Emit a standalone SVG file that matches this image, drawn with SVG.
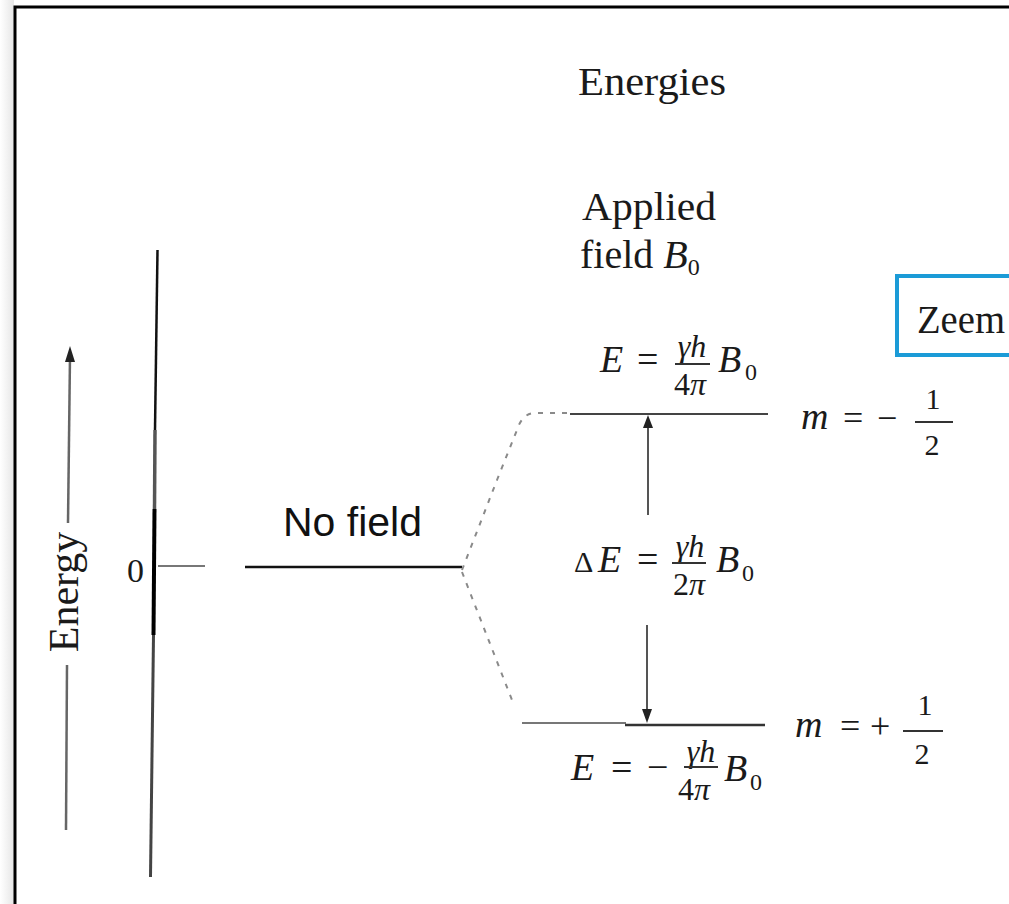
<svg xmlns="http://www.w3.org/2000/svg" width="1009" height="904" viewBox="0 0 1009 904">
<defs>
<linearGradient id="shadow" x1="0" y1="0" x2="1" y2="0">
<stop offset="0" stop-color="#ffffff"/>
<stop offset="1" stop-color="#e6e6e6"/>
</linearGradient>
</defs>
<style>
.t{font-family:"Liberation Serif","Times New Roman",serif;fill:#1a1a1a}
.i{font-style:italic}
.s{font-family:"Liberation Sans",Arial,sans-serif;fill:#111}
.dash{fill:none;stroke:#8a8a8a;stroke-width:2;stroke-dasharray:5 7}
.bar{stroke:#333;stroke-width:2}
</style>
<rect width="1009" height="904" fill="#fff"/>
<rect x="0" y="0" width="14" height="904" fill="url(#shadow)"/>
<path d="M15,904 V7 H1009" fill="none" stroke="#000" stroke-width="3"/>

<g id="header">
<text class="t" x="578" y="95" font-size="40" textLength="148" lengthAdjust="spacingAndGlyphs">Energies</text>
<text class="t" x="582" y="220" font-size="40" textLength="134" lengthAdjust="spacingAndGlyphs">Applied</text>
<text class="t" x="580" y="268" font-size="40">field <tspan class="i">B</tspan><tspan font-size="24" dy="7">0</tspan></text>
</g>

<g id="zeeman-label">
<rect x="897" y="276" width="130" height="79" fill="#fff" stroke="#1b9bd7" stroke-width="4"/>
<text class="t" x="917" y="333" font-size="40" fill="#000" textLength="88" lengthAdjust="spacingAndGlyphs">Zeem</text>
</g>

<g id="energy-axis">
<line x1="70" y1="356" x2="68" y2="523" stroke="#666" stroke-width="2.5"/>
<polygon points="70,346 65,362 75,362" fill="#222"/>
<text class="t" transform="translate(78,592) rotate(-90)" text-anchor="middle" font-size="42" fill="#333">Energy</text>
<line x1="67" y1="665" x2="66" y2="830" stroke="#666" stroke-width="2.5"/>
</g>

<g id="main-axis">
<line x1="157.5" y1="250" x2="155" y2="430" stroke="#111" stroke-width="2.5"/>
<line x1="155" y1="430" x2="154.5" y2="509" stroke="#555" stroke-width="3.5"/>
<line x1="154.5" y1="509" x2="153.5" y2="635" stroke="#000" stroke-width="4"/>
<line x1="153.5" y1="635" x2="150.5" y2="877" stroke="#444" stroke-width="3"/>
<text class="t" x="127" y="582" font-size="34">0</text>
<line x1="158" y1="566" x2="205" y2="566" stroke="#777" stroke-width="2"/>
</g>

<g id="no-field">
<text class="s" x="283" y="536" font-size="40" textLength="139" lengthAdjust="spacingAndGlyphs">No field</text>
<line x1="245" y1="567" x2="462" y2="567" stroke="#111" stroke-width="2.5"/>
</g>

<g id="upper-level">
<line x1="570" y1="414" x2="768" y2="414" stroke="#444" stroke-width="2"/>
<text class="t i" x="600" y="372" font-size="38">E</text>
<text class="t" x="637" y="372" font-size="38">=</text>
<text class="t i" x="692" y="357" font-size="32" text-anchor="middle">γh</text>
<line class="bar" x1="675" y1="364" x2="710" y2="364"/>
<text class="t" x="690" y="395" font-size="32" text-anchor="middle">4<tspan class="i">π</tspan></text>
<text class="t i" x="718" y="372" font-size="38">B</text>
<text class="t" x="745" y="380" font-size="24">0</text>
<text class="t i" x="801" y="429" font-size="38">m</text>
<text class="t" x="843" y="430" font-size="36">=</text>
<text class="t" x="877" y="430" font-size="36">−</text>
<text class="t" x="933" y="409" font-size="30" text-anchor="middle">1</text>
<line class="bar" x1="915" y1="422" x2="953" y2="422"/>
<text class="t" x="932" y="455" font-size="30" text-anchor="middle">2</text>
</g>

<g id="delta-e">
<text class="t" x="574" y="572" font-size="30">Δ</text>
<text class="t i" x="598" y="572" font-size="38">E</text>
<text class="t" x="637" y="572" font-size="38">=</text>
<text class="t i" x="690" y="557" font-size="32" text-anchor="middle">γh</text>
<line class="bar" x1="672" y1="563" x2="706" y2="563"/>
<text class="t" x="689" y="595" font-size="32" text-anchor="middle">2<tspan class="i">π</tspan></text>
<text class="t i" x="716" y="572" font-size="38">B</text>
<text class="t" x="742" y="581" font-size="24">0</text>
</g>

<g id="lower-level">
<line x1="522" y1="723" x2="626" y2="723" stroke="#777" stroke-width="2"/>
<line x1="625" y1="725" x2="765" y2="725" stroke="#333" stroke-width="2.5"/>
<text class="t i" x="571" y="780" font-size="38">E</text>
<text class="t" x="611" y="780" font-size="38">=</text>
<text class="t" x="647" y="780" font-size="38">−</text>
<text class="t i" x="701" y="762" font-size="32" text-anchor="middle">γh</text>
<line class="bar" x1="684" y1="767" x2="718" y2="767"/>
<text class="t" x="694" y="800" font-size="32" text-anchor="middle">4<tspan class="i">π</tspan></text>
<text class="t i" x="724" y="781" font-size="38">B</text>
<text class="t" x="750" y="790" font-size="24">0</text>
<text class="t i" x="795" y="737" font-size="38">m</text>
<text class="t" x="840" y="738" font-size="36">=</text>
<text class="t" x="870" y="738" font-size="36">+</text>
<text class="t" x="925" y="715" font-size="30" text-anchor="middle">1</text>
<line class="bar" x1="903" y1="731" x2="943" y2="731"/>
<text class="t" x="922" y="764" font-size="30" text-anchor="middle">2</text>
</g>

<g id="connectors">
<path class="dash" d="M462,570 L497,480 L517,430 Q522,414 534,413 L570,413"/>
<path class="dash" d="M462,572 L512,700"/>
<line x1="648" y1="424" x2="648" y2="515" stroke="#555" stroke-width="2"/>
<polygon points="648,415 643,428 653,428" fill="#222"/>
<line x1="647" y1="625" x2="647" y2="712" stroke="#555" stroke-width="2"/>
<polygon points="647,723 642,709 652,709" fill="#222"/>
</g>
</svg>
